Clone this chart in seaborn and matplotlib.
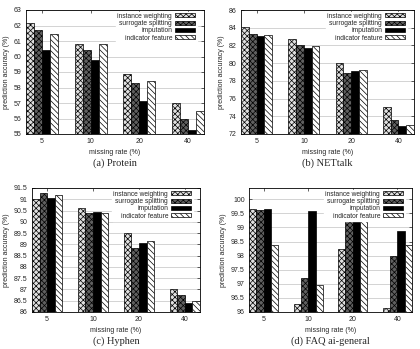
import matplotlib
matplotlib.use("Agg")
import matplotlib.pyplot as plt
import matplotlib.patches as mpatches
import seaborn as sns
import pandas as pd
import numpy as np

rates = ["5", "10", "20", "40"]
methods = ["instance weighting", "surrogate splitting", "imputation", "indicator feature"]

protein_iw = [62.15, 60.8, 58.9, 57.0]
protein_ss = [61.7, 60.45, 58.3, 56.0]
protein_imp = [60.4, 59.8, 57.1, 55.25]
protein_ind = [61.45, 60.8, 58.45, 56.5]

nettalk_iw = [84.05, 82.7, 80.0, 75.05]
nettalk_ss = [83.3, 82.0, 78.9, 73.55]
nettalk_imp = [83.1, 81.7, 79.1, 72.85]
nettalk_ind = [83.15, 81.9, 79.2, 73.0]

hyphen_iw = [91.0, 90.62, 89.52, 87.02]
hyphen_ss = [91.3, 90.37, 88.85, 86.75]
hyphen_imp = [91.05, 90.43, 89.05, 86.42]
hyphen_ind = [91.2, 90.4, 89.15, 86.5]

faq_iw = [99.65, 96.3, 98.25, 96.15]
faq_ss = [99.63, 97.22, 99.32, 97.98]
faq_imp = [99.65, 99.57, 99.27, 98.87]
faq_ind = [98.38, 96.97, 99.35, 98.38]

plt.rcParams["hatch.linewidth"] = 0.5
sns.set_style("ticks")
plt.rcParams["font.family"] = ["Liberation Sans", "DejaVu Sans"]

styles = [
    dict(face="#e0e0e0", hatch="xxxxxx"),
    dict(face="#606060", hatch="xxxxxx"),
    dict(face="#000000", hatch=None),
    dict(face="#ffffff", hatch="\\\\\\\\\\\\"),
]

fig = plt.figure(figsize=(4.2, 3.49), dpi=100)

panels = [
    ("(a) Protein", [protein_iw, protein_ss, protein_imp, protein_ind],
     [26, 204, 10, 134], (55, 63), np.arange(55, 63.01, 1), "{:.0f}"),
    ("(b) NETtalk", [nettalk_iw, nettalk_ss, nettalk_imp, nettalk_ind],
     [241, 414, 10, 134], (72, 86), np.arange(72, 86.01, 2), "{:.0f}"),
    ("(c) Hyphen", [hyphen_iw, hyphen_ss, hyphen_imp, hyphen_ind],
     [32, 200, 188, 312], (86, 91.5), np.arange(86, 91.51, 0.5), "{:g}"),
    ("(d) FAQ ai-general", [faq_iw, faq_ss, faq_imp, faq_ind],
     [249, 412, 188, 312], (96, 100.4), np.arange(96, 100.01, 0.5), "{:g}"),
]

W, H = 420.0, 349.0
fs = 5.0
for caption, series, (x0, x1, y0, y1), ylim, yticks, fmt in panels:
    ax = fig.add_axes([x0 / W, 1 - y1 / H, (x1 - x0) / W, (y1 - y0) / H])
    rows = []
    for m, vals in zip(methods, series):
        for r, v in zip(rates, vals):
            rows.append(dict(rate=r, method=m, acc=v))
    df = pd.DataFrame(rows)
    sns.barplot(data=df, x="rate", y="acc", hue="method", order=rates,
                hue_order=methods, width=0.66, legend=False, ax=ax,
                edgecolor="black", linewidth=0.5, saturation=1, zorder=3)
    handles = []
    for cont, st, m in zip(ax.containers, styles, methods):
        for p in cont.patches:
            p.set_facecolor(st["face"])
            p.set_edgecolor("black")
            p.set_linewidth(0.5)
            if st["hatch"]:
                p.set_hatch(st["hatch"])
        handles.append(mpatches.Patch(facecolor=st["face"], edgecolor="black",
                                      linewidth=0.5, hatch=st["hatch"], label=m))
    ax.set_xlim(-0.33, 3.33)
    ax.set_ylim(*ylim)
    ax.set_yticks(yticks)
    ax.set_yticklabels([fmt.format(t) for t in yticks])
    ax.yaxis.grid(True, color="#cccccc", linewidth=0.6, zorder=0)
    ax.set_axisbelow(True)
    ax.tick_params(direction="in", length=2.5, width=0.5, top=True, right=True,
                   labelsize=fs, pad=3)
    for s in ax.spines.values():
        s.set_linewidth(0.6)
        s.set_color("black")
    ax.set_xlabel("missing rate (%)", fontsize=fs, labelpad=3)
    ax.set_ylabel("prediction accuracy (%)", fontsize=fs, labelpad=3)
    wpx, hpx = x1 - x0, y1 - y0
    leg = ax.legend(handles=handles, loc="upper right",
                    bbox_to_anchor=(1 - 7.5 / wpx, 1 - 1.5 / hpx),
                    fontsize=fs * 0.95, markerfirst=False, frameon=True,
                    handlelength=3.0, handleheight=0.55, labelspacing=0.05,
                    borderaxespad=0, borderpad=0.2, handletextpad=0.5)
    leg.get_frame().set_facecolor("white")
    leg.get_frame().set_edgecolor("white")
    leg.get_frame().set_alpha(1)
    leg.set_zorder(5)
    cx = (x0 + x1) / 2 / W
    cy = 1 - (y1 + 29) / H
    fig.text(cx, cy, caption, ha="center", va="center", fontsize=7.5,
             family=["Liberation Serif", "DejaVu Serif"])

fig.savefig("out.png", dpi=100)
